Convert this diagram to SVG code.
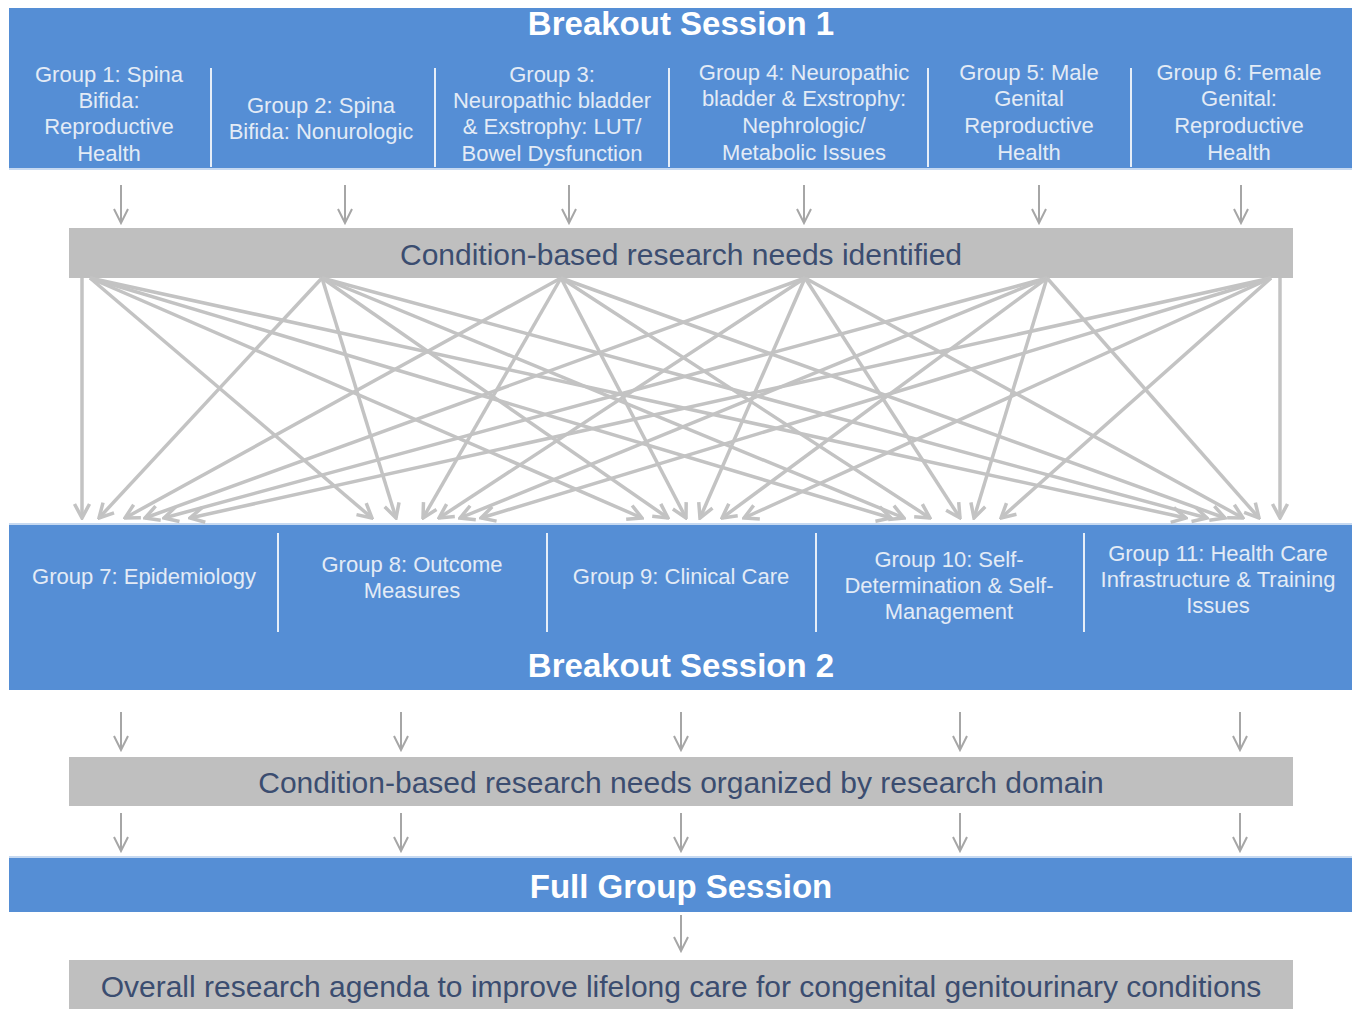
<svg xmlns="http://www.w3.org/2000/svg" width="1358" height="1009" viewBox="0 0 1358 1009">
<style>
.band{fill:#558ed5}
.edge{fill:#c6d9f1}
.bar{fill:#bfbfbf}
.sep{stroke:#e6eef8;stroke-width:2}
.title{font-family:"Liberation Sans",Arial,sans-serif;font-weight:bold;font-size:33px;fill:#ffffff;text-anchor:middle}
.grp{font-family:"Liberation Sans",Arial,sans-serif;font-size:22px;fill:#e3ebf6;text-anchor:middle}
.bartxt{font-family:"Liberation Sans",Arial,sans-serif;font-size:30px;fill:#3b4d70;text-anchor:middle}
.big{stroke:#c3c3c3;stroke-width:3.5;fill:none;marker-end:url(#hb)}
.small{stroke:#a6a6a6;stroke-width:2;fill:none;marker-end:url(#hs)}
</style>
<defs>
<marker id="hb" markerUnits="userSpaceOnUse" viewBox="-16 -10 18 20" refX="0" refY="0" markerWidth="18" markerHeight="20" orient="auto">
<path d="M-14,-7.5 L0,0 L-14,7.5" fill="none" stroke="#c3c3c3" stroke-width="3.5"/>
</marker>
<marker id="hs" markerUnits="userSpaceOnUse" viewBox="-16 -10 18 20" refX="0" refY="0" markerWidth="18" markerHeight="20" orient="auto">
<path d="M-14,-7 L0,0 L-14,7" fill="none" stroke="#a6a6a6" stroke-width="2"/>
</marker>
</defs>

<g id="session1">
<rect class="band" x="9" y="8" width="1343" height="160"/>
<rect class="edge" x="9" y="168" width="1343" height="2"/>
<text class="title" x="681" y="35">Breakout Session 1</text>
<line class="sep" x1="211" y1="68" x2="211" y2="167"/>
<line class="sep" x1="435" y1="68" x2="435" y2="167"/>
<line class="sep" x1="669" y1="68" x2="669" y2="167"/>
<line class="sep" x1="928" y1="68" x2="928" y2="167"/>
<line class="sep" x1="1131" y1="68" x2="1131" y2="167"/>
</g>
<g id="g1"><text class="grp" x="109" y="82">Group 1: Spina</text><text class="grp" x="109" y="108">Bifida:</text><text class="grp" x="109" y="134">Reproductive</text><text class="grp" x="109" y="161">Health</text></g>
<g id="g2"><text class="grp" x="321" y="113">Group 2: Spina</text><text class="grp" x="321" y="139">Bifida: Nonurologic</text></g>
<g id="g3"><text class="grp" x="552" y="82">Group 3:</text><text class="grp" x="552" y="108">Neuropathic bladder</text><text class="grp" x="552" y="134">&amp; Exstrophy: LUT/</text><text class="grp" x="552" y="161">Bowel Dysfunction</text></g>
<g id="g4"><text class="grp" x="804" y="80">Group 4: Neuropathic</text><text class="grp" x="804" y="106">bladder &amp; Exstrophy:</text><text class="grp" x="804" y="133">Nephrologic/</text><text class="grp" x="804" y="160">Metabolic Issues</text></g>
<g id="g5"><text class="grp" x="1029" y="80">Group 5: Male</text><text class="grp" x="1029" y="106">Genital</text><text class="grp" x="1029" y="133">Reproductive</text><text class="grp" x="1029" y="160">Health</text></g>
<g id="g6"><text class="grp" x="1239" y="80">Group 6: Female</text><text class="grp" x="1239" y="106">Genital:</text><text class="grp" x="1239" y="133">Reproductive</text><text class="grp" x="1239" y="160">Health</text></g>

<g id="needs1"><rect class="bar" x="69" y="228" width="1224" height="50"/><text class="bartxt" x="681" y="265">Condition-based research needs identified</text></g>

<g id="session2">
<rect class="edge" x="9" y="523" width="1343" height="2"/>
<rect class="band" x="9" y="525" width="1343" height="165"/>
<line class="sep" x1="278" y1="533" x2="278" y2="632"/>
<line class="sep" x1="547" y1="533" x2="547" y2="632"/>
<line class="sep" x1="816" y1="533" x2="816" y2="632"/>
<line class="sep" x1="1084" y1="533" x2="1084" y2="632"/>
<text class="title" x="681" y="677">Breakout Session 2</text>
</g>
<g id="g7"><text class="grp" x="144" y="584">Group 7: Epidemiology</text></g>
<g id="g8"><text class="grp" x="412" y="572">Group 8: Outcome</text><text class="grp" x="412" y="598">Measures</text></g>
<g id="g9"><text class="grp" x="681" y="584">Group 9: Clinical Care</text></g>
<g id="g10"><text class="grp" x="949" y="567">Group 10: Self-</text><text class="grp" x="949" y="593">Determination &amp; Self-</text><text class="grp" x="949" y="619">Management</text></g>
<g id="g11"><text class="grp" x="1218" y="561">Group 11: Health Care</text><text class="grp" x="1218" y="587">Infrastructure &amp; Training</text><text class="grp" x="1218" y="613">Issues</text></g>

<g id="needs2"><rect class="bar" x="69" y="757" width="1224" height="49"/><text class="bartxt" x="681" y="793">Condition-based research needs organized by research domain</text></g>

<g id="full"><rect class="edge" x="9" y="856" width="1343" height="2"/><rect class="band" x="9" y="858" width="1343" height="54"/><text class="title" x="681" y="898">Full Group Session</text></g>

<g id="agenda"><rect class="bar" x="69" y="960" width="1224" height="49"/><text class="bartxt" x="681" y="997">Overall research agenda to improve lifelong care for congenital genitourinary conditions</text></g>

<g id="connectors">
<line class="small" x1="121" y1="185" x2="121" y2="223"/>
<line class="small" x1="345" y1="185" x2="345" y2="223"/>
<line class="small" x1="569" y1="185" x2="569" y2="223"/>
<line class="small" x1="804" y1="185" x2="804" y2="223"/>
<line class="small" x1="1039" y1="185" x2="1039" y2="223"/>
<line class="small" x1="1241" y1="185" x2="1241" y2="223"/>

<line class="big" x1="82" y1="278" x2="82" y2="518"/>
<line class="big" x1="322" y1="278" x2="99" y2="518"/>
<line class="big" x1="561" y1="278" x2="125" y2="518"/>
<line class="big" x1="805" y1="278" x2="145" y2="518"/>
<line class="big" x1="1047" y1="278" x2="164" y2="518"/>
<line class="big" x1="1271" y1="278" x2="190" y2="518"/>

<line class="big" x1="90" y1="278" x2="372" y2="518"/>
<line class="big" x1="322" y1="278" x2="396" y2="518"/>
<line class="big" x1="561" y1="278" x2="423" y2="518"/>
<line class="big" x1="805" y1="278" x2="439" y2="518"/>
<line class="big" x1="1047" y1="278" x2="460" y2="518"/>
<line class="big" x1="1271" y1="278" x2="481" y2="518"/>

<line class="big" x1="90" y1="278" x2="642" y2="518"/>
<line class="big" x1="322" y1="278" x2="668" y2="518"/>
<line class="big" x1="561" y1="278" x2="686" y2="518"/>
<line class="big" x1="805" y1="278" x2="700" y2="518"/>
<line class="big" x1="1047" y1="278" x2="722" y2="518"/>
<line class="big" x1="1271" y1="278" x2="744" y2="518"/>

<line class="big" x1="90" y1="278" x2="891" y2="518"/>
<line class="big" x1="322" y1="278" x2="904" y2="518"/>
<line class="big" x1="561" y1="278" x2="930" y2="518"/>
<line class="big" x1="805" y1="278" x2="960" y2="518"/>
<line class="big" x1="1047" y1="278" x2="974" y2="518"/>
<line class="big" x1="1271" y1="278" x2="1001" y2="518"/>

<line class="big" x1="90" y1="278" x2="1186" y2="518"/>
<line class="big" x1="322" y1="278" x2="1207" y2="518"/>
<line class="big" x1="561" y1="278" x2="1225" y2="518"/>
<line class="big" x1="805" y1="278" x2="1243" y2="518"/>
<line class="big" x1="1047" y1="278" x2="1259" y2="518"/>
<line class="big" x1="1280" y1="278" x2="1280" y2="518"/>

<line class="small" x1="121" y1="712" x2="121" y2="750"/>
<line class="small" x1="401" y1="712" x2="401" y2="750"/>
<line class="small" x1="681" y1="712" x2="681" y2="750"/>
<line class="small" x1="960" y1="712" x2="960" y2="750"/>
<line class="small" x1="1240" y1="712" x2="1240" y2="750"/>

<line class="small" x1="121" y1="813" x2="121" y2="851"/>
<line class="small" x1="401" y1="813" x2="401" y2="851"/>
<line class="small" x1="681" y1="813" x2="681" y2="851"/>
<line class="small" x1="960" y1="813" x2="960" y2="851"/>
<line class="small" x1="1240" y1="813" x2="1240" y2="851"/>

<line class="small" x1="681" y1="915" x2="681" y2="951"/>
</g>
</svg>
